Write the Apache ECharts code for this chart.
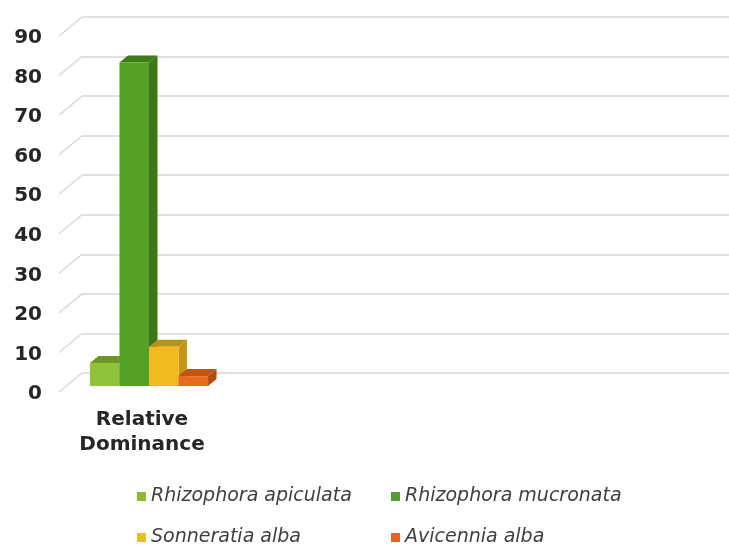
<!DOCTYPE html>
<html>
<head>
<meta charset="utf-8">
<script src="https://cdn.jsdelivr.net/npm/echarts@6/dist/echarts.min.js"></script>
<style>
  html, body { margin: 0; padding: 0; background: #ffffff; }
  #chart { width: 729px; height: 548px; }
</style>
</head>
<body>
<div id="chart"></div>
<script>
// Importance values of mangrove species (percent)
const categories = ['Relative Dominance'];
const speciesNames = ['Rhizophora apiculata', 'Rhizophora mucronata', 'Sonneratia alba', 'Avicennia alba'];
const rhizophoraApiculata = [5.8];
const rhizophoraMucronata = [81.8];
const sonneratiaAlba = [9.9];
const avicenniaAlba = [2.5];
const yTicks = [0, 10, 20, 30, 40, 50, 60, 70, 80, 90];

const speciesValues = [rhizophoraApiculata, rhizophoraMucronata, sonneratiaAlba, avicenniaAlba];

// face colours for each box: front, top, side, legend swatch
const palette = [
  { front: '#8fc43a', top: '#6f9624', side: '#6c9a22', key: '#8dbb32' },
  { front: '#55a128', top: '#3f7a18', side: '#3c7816', key: '#569c34' },
  { front: '#f2ba1e', top: '#b8931c', side: '#c49516', key: '#e6bf2c' },
  { front: '#e86c1c', top: '#c25414', side: '#b44c10', key: '#e0662a' }
];

// pseudo-3D geometry (pixels)
const DEPTH_DX = 8.5, DEPTH_DY = -7;      // box depth
const WALL_DX = -23, WALL_DY = 19;        // side wall reach from back wall to front edge
const PLANE_DX = 7, PLANE_DY = -8;        // bar front plane relative to the label plane
const BAR_RATIO = 0.18;                   // bar width as share of the category band

const chart = echarts.init(document.getElementById('chart'), null, { renderer: 'canvas' });

function barRenderer(k) {
  const c = palette[k];
  return function (params, api) {
    const base = api.coord([api.value(0), 0]);
    const top = api.coord([api.value(0), api.value(1)]);
    const band = api.size([1, 0])[0];
    const w = band * BAR_RATIO;
    const n = speciesValues.length;
    const x0 = base[0] + PLANE_DX - (n * w) / 2 + k * w;
    const x1 = x0 + w;
    const yb = base[1] + PLANE_DY;
    const yt = top[1] + PLANE_DY;
    return {
      type: 'group',
      children: [
        {
          type: 'polygon',
          shape: { points: [[x1, yt], [x1 + DEPTH_DX, yt + DEPTH_DY], [x1 + DEPTH_DX, yb + DEPTH_DY], [x1, yb]] },
          style: { fill: c.side }
        },
        {
          type: 'polygon',
          shape: { points: [[x0, yt], [x0 + DEPTH_DX, yt + DEPTH_DY], [x1 + DEPTH_DX, yt + DEPTH_DY], [x1, yt]] },
          style: { fill: c.top }
        },
        {
          type: 'rect',
          shape: { x: x0, y: yt, width: w, height: yb - yt },
          style: { fill: c.front }
        }
      ]
    };
  };
}

function wallRenderer(params, api) {
  const p = api.coord([0, api.value(0)]);
  return {
    type: 'line',
    shape: { x1: p[0] + WALL_DX, y1: p[1] + WALL_DY, x2: p[0], y2: p[1] },
    style: { stroke: '#d8d8d8', lineWidth: 1.4 }
  };
}

const legendText = {
  fontFamily: 'DejaVu Sans',
  fontStyle: 'italic',
  fontSize: 19,
  color: '#404040'
};
const legendPos = [
  { left: 137, top: 487 },
  { left: 391, top: 487 },
  { left: 137, top: 528 },
  { left: 391, top: 528 }
];

const option = {
  backgroundColor: '#ffffff',
  animation: false,
  grid: [
    { left: 82, right: 0, top: 17, bottom: 175 },
    { left: 60, width: 164, top: 38, bottom: 154 }
  ],
  xAxis: [
    { gridIndex: 0, type: 'value', min: 0, max: 1, show: false },
    {
      gridIndex: 1, type: 'category', data: categories,
      axisLine: { show: false }, axisTick: { show: false },
      axisLabel: {
        margin: 13,
        fontFamily: 'DejaVu Sans', fontWeight: 'bold', fontSize: 20,
        lineHeight: 25, color: '#262626', align: 'center',
        formatter: function (v) { return v.replace(' ', '\n'); }
      }
    }
  ],
  yAxis: [
    {
      gridIndex: 0, type: 'value', min: 0, max: 90, interval: 10,
      axisLine: { show: false }, axisTick: { show: false }, axisLabel: { show: false },
      splitLine: { lineStyle: { color: '#d6d6d6', width: 1.5 } }
    },
    {
      gridIndex: 1, type: 'value', min: 0, max: 90, interval: 10,
      axisLine: { show: false }, axisTick: { show: false }, splitLine: { show: false },
      axisLabel: {
        margin: 18,
        fontFamily: 'DejaVu Sans', fontWeight: 'bold', fontSize: 20, color: '#262626'
      }
    }
  ],
  legend: speciesNames.map(function (name, i) {
    return {
      data: [name],
      left: legendPos[i].left, top: legendPos[i].top,
      padding: 0, itemWidth: 9, itemHeight: 9, itemGap: 0,
      icon: 'rect', textStyle: legendText, selectedMode: false
    };
  }),
  series: [
    {
      type: 'custom', name: 'wall',
      xAxisIndex: 0, yAxisIndex: 0,
      data: yTicks.map(function (v) { return [v]; }),
      renderItem: wallRenderer, clip: false, silent: true, z: 1
    }
  ].concat(speciesNames.map(function (name, k) {
    return {
      type: 'custom', name: name,
      xAxisIndex: 1, yAxisIndex: 1,
      itemStyle: { color: palette[k].key },
      data: categories.map(function (c, i) { return [i, speciesValues[k][i]]; }),
      renderItem: barRenderer(k), clip: false, z: 3
    };
  }))
};

chart.setOption(option);
</script>
</body>
</html>
